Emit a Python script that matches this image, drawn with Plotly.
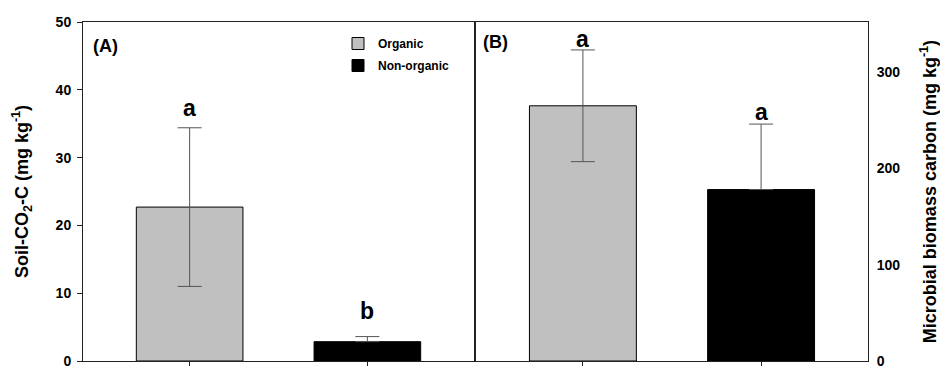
import plotly.graph_objects as go

# ---- data ----
categories = ["Organic", "Non-organic"]
co2_mean = [22.7, 2.85]          # Soil-CO2-C (mg kg-1)
co2_err = [11.7, 0.75]
mbc_mean = [265, 178]            # Microbial biomass carbon (mg kg-1)
mbc_err = [58, 68]
co2_letters = ["a", "b"]
mbc_letters = ["a", "a"]

# ---- style ----
FONT = "Liberation Sans, Arial, sans-serif"
bar_colors = ["#C0C0C0", "#000000"]
err_color = "#555555"
letter_shift_A = [5, 11]
letter_shift_B = [-4, -3]

fig = go.Figure()

for i, cat in enumerate(categories):
    minus = co2_err[i] if i == 0 else 0
    fig.add_trace(go.Bar(
        x=[cat], y=[co2_mean[i]], name=cat, legendgroup=cat, showlegend=True,
        marker=dict(color=bar_colors[i], line=dict(color="black", width=1)),
        width=0.6,
        error_y=dict(type="data", array=[co2_err[i]], arrayminus=[minus], symmetric=False,
                     color=err_color, thickness=1, width=12),
        xaxis="x", yaxis="y",
    ))
for i, cat in enumerate(categories):
    minus = mbc_err[i] if i == 0 else 0
    fig.add_trace(go.Bar(
        x=[cat], y=[mbc_mean[i]], name=cat, legendgroup=cat, showlegend=False,
        marker=dict(color=bar_colors[i], line=dict(color="black", width=1)),
        width=0.6,
        error_y=dict(type="data", array=[mbc_err[i]], arrayminus=[minus], symmetric=False,
                     color=err_color, thickness=1, width=12),
        xaxis="x2", yaxis="y2",
    ))

annotations = []
for i, cat in enumerate(categories):
    annotations.append(dict(x=cat, y=co2_mean[i] + co2_err[i], xref="x", yref="y",
                            text=co2_letters[i], showarrow=False, yanchor="bottom",
                            yshift=letter_shift_A[i],
                            font=dict(family=FONT, size=23, color="black", weight="bold")))
    annotations.append(dict(x=cat, y=mbc_mean[i] + mbc_err[i], xref="x2", yref="y2",
                            text=mbc_letters[i], showarrow=False, yanchor="bottom",
                            yshift=letter_shift_B[i],
                            font=dict(family=FONT, size=23, color="black", weight="bold")))
annotations.append(dict(x=91 / 940, y=1 - 46 / 367, xref="paper", yref="paper", text="(A)",
                        showarrow=False, xanchor="left", yanchor="middle",
                        font=dict(family=FONT, size=18, color="black", weight="bold")))
annotations.append(dict(x=481 / 940, y=1 - 42 / 367, xref="paper", yref="paper", text="(B)",
                        showarrow=False, xanchor="left", yanchor="middle",
                        font=dict(family=FONT, size=18, color="black", weight="bold")))

ydom = [6 / 367, 345 / 367]
axis_common = dict(showline=True, linecolor="#222222", linewidth=1, mirror=True,
                   showgrid=False, zeroline=False, automargin=False)

fig.update_layout(
    width=940, height=367,
    margin=dict(l=0, r=0, t=0, b=0),
    paper_bgcolor="white", plot_bgcolor="white",
    barmode="overlay",
    font=dict(family=FONT, color="black"),
    xaxis=dict(domain=[83 / 940, 474 / 940], range=[-0.6, 1.6], type="category",
               categoryorder="array", categoryarray=categories,
               showticklabels=False, ticks="outside", ticklen=4, tickcolor="#222222",
               anchor="y", **axis_common),
    yaxis=dict(domain=ydom, range=[0, 50], dtick=10, ticks="outside", ticklen=5,
               tickcolor="#222222", anchor="x", ticklabeloverflow="allow",
               ticklabelstandoff=3,
               tickfont=dict(family=FONT, size=14, color="black", weight="bold"),
               title=dict(text="Soil-CO<sub>2</sub>-C (mg kg<sup>-1</sup>)", standoff=22,
                          font=dict(family=FONT, size=18, color="black", weight="bold")),
               **axis_common),
    xaxis2=dict(domain=[476 / 940, 868 / 940], range=[-0.6, 1.6], type="category",
                categoryorder="array", categoryarray=categories,
                showticklabels=False, ticks="outside", ticklen=4, tickcolor="#222222",
                anchor="y2", **axis_common),
    yaxis2=dict(domain=ydom, range=[0, 352], dtick=100, ticks="", side="right",
                anchor="x2", ticklabeloverflow="allow", ticklabelstandoff=5,
                tickfont=dict(family=FONT, size=14, color="black", weight="bold"),
                title=dict(text="Microbial biomass carbon (mg kg<sup>-1</sup>)", standoff=27,
                           font=dict(family=FONT, size=18, color="black", weight="bold")),
                **axis_common),
    legend=dict(x=338 / 940, y=1 - 29 / 367, xanchor="left", yanchor="top",
                bgcolor="rgba(0,0,0,0)", borderwidth=0, tracegroupgap=3,
                font=dict(family=FONT, size=12, color="black", weight="bold")),
    annotations=annotations,
)

fig.write_html("out.html", config={"displayModeBar": False},
               post_script="document.body.style.margin='0';document.body.style.overflow='hidden';")
